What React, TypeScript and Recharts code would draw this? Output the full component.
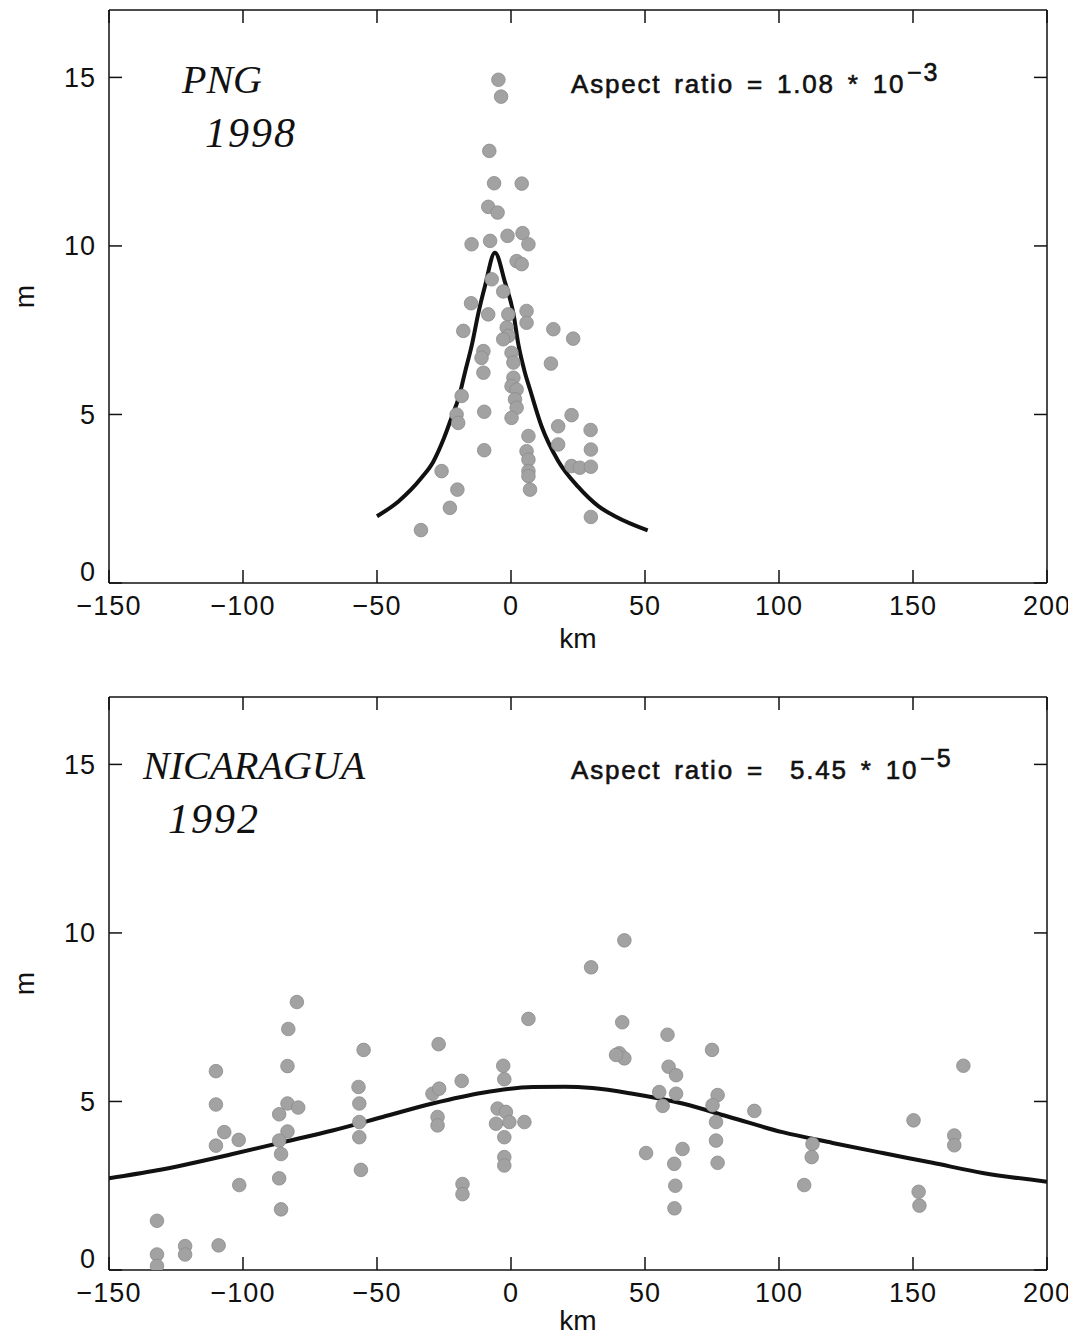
import React from "react";
import { ComposedChart, Line, Scatter, XAxis, YAxis } from "recharts";

// axis ticks (km / m)
const xTicks = [-150, -100, -50, 0, 50, 100, 150, 200];
const yTicks = [0, 5, 10, 15];

// PNG 1998 observed runup heights [km, m]
const pngPoints: [number, number][] = [
  [-4.7, 14.93], [-3.7, 14.43], [-8.1, 12.82], [-6.3, 11.86], [4.0, 11.85],
  [-8.5, 11.16], [-5.0, 10.99], [-14.7, 10.05], [-7.8, 10.15], [-1.3, 10.3],
  [4.3, 10.38], [6.5, 10.05], [2.1, 9.55], [4.0, 9.46], [-7.2, 9.01],
  [-2.9, 8.65], [-14.9, 8.3], [-8.5, 7.97], [-1.0, 7.97], [5.8, 8.07],
  [5.8, 7.72], [-1.6, 7.58], [-17.8, 7.48], [-1.0, 7.33], [-2.9, 7.23],
  [15.8, 7.53], [23.2, 7.25], [-10.3, 6.88], [-11.0, 6.68], [0.2, 6.83],
  [0.9, 6.54], [-10.3, 6.24], [14.9, 6.51], [0.9, 6.09], [0.2, 5.84],
  [2.1, 5.74], [1.5, 5.45], [-18.4, 5.55], [2.1, 5.2], [-20.3, 5.0],
  [-19.7, 4.75], [-10.0, 5.08], [0.2, 4.9], [22.6, 4.98], [17.6, 4.65],
  [29.7, 4.54], [6.5, 4.36], [17.6, 4.11], [29.8, 3.96], [-10.0, 3.94],
  [5.8, 3.91], [6.5, 3.66], [22.6, 3.47], [25.7, 3.42], [29.8, 3.45],
  [6.5, 3.32], [6.5, 3.17], [-25.9, 3.32], [7.1, 2.77], [-20.0, 2.77],
  [-22.8, 2.23], [29.8, 1.96], [-33.6, 1.57],
];

// PNG model curve
const pngCurve: [number, number][] = [
  [-50, 1.98], [-42, 2.42], [-33.4, 3.12], [-29, 3.6], [-25, 4.3],
  [-22, 4.95], [-19.5, 5.5], [-17.2, 6.24], [-14.5, 7.1], [-12.2, 8.0],
  [-9.7, 8.81], [-6, 9.8], [-2.2, 8.91], [0.9, 8.0], [2.7, 7.1],
  [5.2, 6.24], [7.1, 5.74], [11.4, 4.65], [17.6, 3.62], [25.1, 2.85],
  [32.6, 2.28], [38.8, 1.98], [51, 1.56],
];

// Nicaragua 1992 observed runup heights [km, m]
const nicPoints: [number, number][] = [
  [-79.9, 7.95], [-83.1, 7.15], [-83.4, 6.05], [-110.1, 5.9], [-110.1, 4.91],
  [-83.4, 4.94], [-79.4, 4.82], [-86.5, 4.62], [-107, 4.09], [-101.6, 3.86],
  [-110.1, 3.69], [-83.4, 4.11], [-86.5, 3.84], [-85.8, 3.44], [-86.5, 2.72],
  [-101.4, 2.52], [-85.8, 1.8], [-132.1, 1.46], [-109.1, 0.73], [-121.6, 0.71],
  [-121.6, 0.46], [-132.1, 0.46], [-132.1, 0.12],
  [-55, 6.53], [-56.9, 5.43], [-56.6, 4.94], [-56.6, 4.39], [-56.6, 3.94],
  [-56, 2.97], [-27, 6.7], [-18.4, 5.61], [-29.3, 5.23], [-26.8, 5.38],
  [-27.4, 4.54], [-27.4, 4.29], [-18.1, 2.55], [-18.1, 2.25], [6.5, 7.45],
  [-2.9, 6.06], [-2.5, 5.66], [-5, 4.79], [-1.9, 4.69], [-5.6, 4.34],
  [-0.6, 4.39], [5, 4.39], [-2.5, 3.94], [-2.5, 3.35], [-2.5, 3.1],
  [42.3, 9.78], [29.9, 8.98], [41.5, 7.35], [58.4, 6.98], [75, 6.53],
  [40.4, 6.43], [42.3, 6.28], [39.2, 6.38], [168.8, 6.06], [58.8, 6.03],
  [61.6, 5.78], [55.3, 5.28], [61.6, 5.23], [56.6, 4.87], [77.1, 5.19],
  [75.2, 4.89], [76.5, 4.39], [90.8, 4.72], [76.5, 3.84], [77.1, 3.18],
  [150.2, 4.44], [165.4, 3.99], [165.4, 3.7], [50.4, 3.47], [64, 3.59],
  [60.9, 3.15], [61.3, 2.5], [61, 1.83], [112.5, 3.74], [112.2, 3.35],
  [109.4, 2.52], [152.1, 2.32], [152.4, 1.91],
];

// Nicaragua model curve
const nicCurve: [number, number][] = [
  [-150, 2.72], [-132.5, 2.95], [-103.9, 3.44], [-85.2, 3.79], [-66.6, 4.14],
  [-47.9, 4.54], [-29.3, 4.94], [-10.6, 5.26], [8.1, 5.43], [20, 5.44],
  [30.4, 5.4], [45.4, 5.23], [64, 4.94], [82.7, 4.51], [101.3, 4.09],
  [120, 3.77], [138.7, 3.47], [157.3, 3.18], [176, 2.88], [200, 2.62],
];

const toXY = (arr: [number, number][]) => arr.map(([x, y]) => ({ x, y }));

const INK = "#111";
const SANS = "'Liberation Sans', Arial, sans-serif";
const SERIF = "'Liberation Serif', 'Times New Roman', serif";
const TICK = 13;

const fmt = (v: number) => (v < 0 ? `\u2212${Math.abs(v)}` : `${v}`);

function BottomTick(props: any) {
  const { x, y, payload } = props;
  return (
    <g>
      <line x1={x} y1={y} x2={x} y2={y - TICK} stroke={INK} strokeWidth={1.5} />
      <text x={x} y={y + 32} textAnchor="middle" fontSize={27} fill={INK} fontFamily={SANS} letterSpacing={1}>
        {fmt(payload.value)}
      </text>
    </g>
  );
}

function TopTick(props: any) {
  const { x, y } = props;
  return <line x1={x} y1={y} x2={x} y2={y + TICK} stroke={INK} strokeWidth={1.5} />;
}

function LeftTick(props: any) {
  const { x, y, payload } = props;
  const dy = payload.value === 0 ? -11 : 0;
  return (
    <g>
      <line x1={x} y1={y} x2={x + TICK} y2={y} stroke={INK} strokeWidth={1.5} />
      <text x={x - 13} y={y + dy} dy="0.35em" textAnchor="end" fontSize={27} fill={INK} fontFamily={SANS} letterSpacing={1}>
        {payload.value}
      </text>
    </g>
  );
}

function RightTick(props: any) {
  const { x, y } = props;
  return <line x1={x} y1={y} x2={x - TICK} y2={y} stroke={INK} strokeWidth={1.5} />;
}

function GrayDot(props: any) {
  const { cx, cy } = props;
  if (cx == null || cy == null) return <g />;
  return <circle cx={cx} cy={cy} r={6.8} fill="#a2a2a2" stroke="#8c8c8c" strokeWidth={0.8} />;
}

interface PanelProps {
  points: [number, number][];
  curve: [number, number][];
  place: string;
  year: string;
  ratio: string;
  exp: string;
  height: number;
  top: number;
  titleY: number;
  placeX: number;
  yearX: number;
  kmGap: number;
}

function Panel({ points, curve, place, year, ratio, exp, height, top, titleY, placeX, yearX, kmGap }: PanelProps) {
  const width = 1068;
  const plotH = 573;
  const xAxisH = 70;
  const bottom = height - top - plotH - xAxisH;
  const axisLine = { stroke: INK, strokeWidth: 1.5 };
  const curveData = toXY(curve);
  return (
    <div style={{ position: "relative", width, height }}>
      <ComposedChart width={width} height={height} margin={{ top: top - 1, right: 28, bottom, left: 41 }}>
        <XAxis
          dataKey="x"
          type="number"
          domain={[-150, 200]}
          ticks={xTicks}
          allowDataOverflow
          height={xAxisH}
          tickSize={0}
          tickMargin={0}
          tickLine={false}
          axisLine={axisLine}
          tick={<BottomTick />}
          interval={0}
        />
        <XAxis
          xAxisId="top"
          orientation="top"
          dataKey="x"
          type="number"
          domain={[-150, 200]}
          ticks={xTicks}
          allowDataOverflow
          height={1}
          tickSize={0}
          tickMargin={0}
          tickLine={false}
          axisLine={axisLine}
          tick={<TopTick />}
          interval={0}
        />
        <YAxis
          dataKey="y"
          type="number"
          domain={[0, 17]}
          ticks={yTicks}
          allowDataOverflow
          width={60}
          tickSize={0}
          tickMargin={0}
          tickLine={false}
          axisLine={axisLine}
          tick={<LeftTick />}
          interval={0}
        />
        <YAxis
          yAxisId="right"
          orientation="right"
          dataKey="y"
          type="number"
          domain={[0, 17]}
          ticks={yTicks}
          allowDataOverflow
          width={1}
          tickSize={0}
          tickMargin={0}
          tickLine={false}
          axisLine={axisLine}
          tick={<RightTick />}
          interval={0}
        />
        {/* invisible copy so the top/right frame axes are registered */}
        <Line
          xAxisId="top"
          yAxisId="right"
          data={curveData}
          dataKey="y"
          stroke="none"
          dot={false}
          activeDot={false}
          isAnimationActive={false}
        />
        <Scatter data={toXY(points)} dataKey="y" shape={<GrayDot />} isAnimationActive={false} />
        <Line
          data={curveData}
          dataKey="y"
          type="monotone"
          stroke={INK}
          strokeWidth={4}
          dot={false}
          activeDot={false}
          isAnimationActive={false}
        />
      </ComposedChart>
      <svg
        width={width}
        height={height}
        style={{ position: "absolute", left: 0, top: 0, pointerEvents: "none", overflow: "visible" }}
      >
        <text x={placeX} y={titleY} fontSize={40} fontStyle="italic" fontFamily={SERIF} fill={INK}>
          {place}
        </text>
        <text x={yearX} y={titleY + 54} fontSize={42} fontStyle="italic" fontFamily={SERIF} fill={INK} letterSpacing={2}>
          {year}
        </text>
        <text
          x={563}
          y={titleY}
          fontSize={26}
          fontFamily={SANS}
          fill={INK}
          stroke={INK}
          strokeWidth={0.6}
          letterSpacing={1.8}
          wordSpacing={4}
          style={{ whiteSpace: "pre" }}
        >
          {ratio}
          <tspan dx={2} dy={-12} fontSize={25}>
            {exp}
          </tspan>
        </text>
        <text
          x={26}
          y={top + plotH / 2}
          fontSize={28}
          fontFamily={SANS}
          fill={INK}
          textAnchor="middle"
          transform={`rotate(-90 26 ${top + plotH / 2})`}
        >
          m
        </text>
        <text x={570} y={top + plotH + kmGap} fontSize={28} fontFamily={SANS} fill={INK} textAnchor="middle">
          km
        </text>
      </svg>
    </div>
  );
}

export default function App() {
  return (
    <div style={{ width: 1068 }}>
      <Panel
        points={pngPoints}
        curve={pngCurve}
        place="PNG"
        year="1998"
        ratio="Aspect ratio = 1.08 * 10"
        exp={"\u22123"}
        height={660}
        top={2}
        titleY={85}
        placeX={174}
        yearX={197}
        kmGap={65}
      />
      <Panel
        points={nicPoints}
        curve={nicCurve}
        place="NICARAGUA"
        year="1992"
        ratio={"Aspect ratio =  5.45 * 10"}
        exp={"\u22125"}
        height={668}
        top={29}
        titleY={111}
        placeX={135}
        yearX={160}
        kmGap={60}
      />
    </div>
  );
}
